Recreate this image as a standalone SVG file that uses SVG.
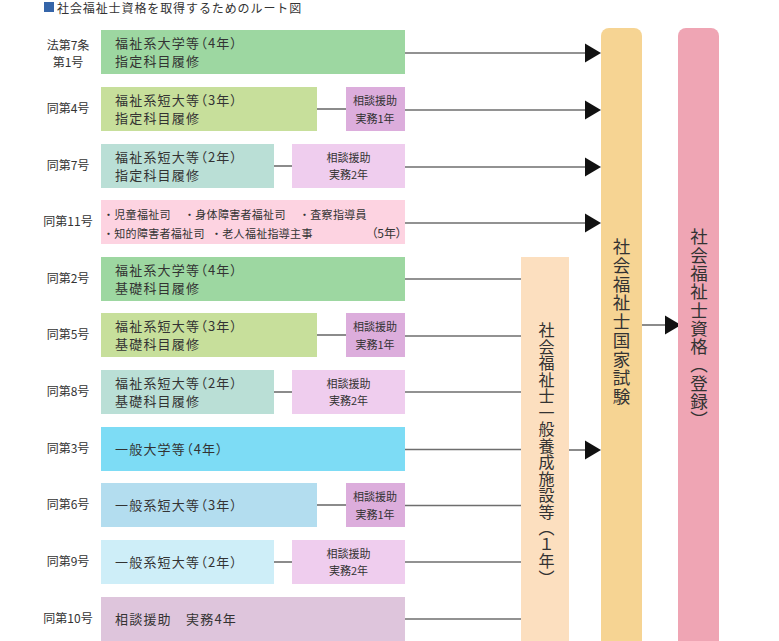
<svg xmlns="http://www.w3.org/2000/svg" width="779" height="641" viewBox="0 0 779 641">
<style>
text{font-family:"Noto Sans CJK JP","Noto Sans",sans-serif;fill:#333}
.lbl{font-size:12px;text-anchor:middle}
.main{font-size:13px;letter-spacing:1.2px;font-feature-settings:"palt"}
.sm{font-size:11px;text-anchor:middle}
.lst{font-size:11px;letter-spacing:0.3px}
.vt{writing-mode:vertical-rl}
.ln{stroke:#6e6e6e;stroke-width:1.6;fill:none}
.ah{fill:#111}
</style>
<defs>
<polygon id="arr" points="0,-9.5 16,0 0,9.5"/>
</defs>
<g id="title">
<rect x="44" y="2" width="10" height="10" fill="#3565a9"/>
<text x="57" y="12.5" style="font-size:12px;letter-spacing:0.9px">社会福祉士資格を取得するためのルート図</text>
</g>
<g id="connectors">
<line class="ln" x1="405" y1="53" x2="586" y2="53"/>
<line class="ln" x1="317" y1="109" x2="346" y2="109"/>
<line class="ln" x1="405" y1="110" x2="586" y2="110"/>
<line class="ln" x1="274" y1="166" x2="292" y2="166"/>
<line class="ln" x1="405" y1="167" x2="586" y2="167"/>
<line class="ln" x1="405" y1="223" x2="586" y2="223"/>
<line class="ln" x1="405" y1="279" x2="521" y2="279"/>
<line class="ln" x1="317" y1="335" x2="346" y2="335"/>
<line class="ln" x1="405" y1="336" x2="521" y2="336"/>
<line class="ln" x1="274" y1="392" x2="292" y2="392"/>
<line class="ln" x1="405" y1="392" x2="521" y2="392"/>
<line class="ln" x1="405" y1="449.5" x2="521" y2="449.5"/>
<line class="ln" x1="317" y1="505" x2="346" y2="505"/>
<line class="ln" x1="405" y1="505.5" x2="521" y2="505.5"/>
<line class="ln" x1="274" y1="562" x2="292" y2="562"/>
<line class="ln" x1="405" y1="562" x2="521" y2="562"/>
<line class="ln" x1="405" y1="619" x2="521" y2="619"/>
<line class="ln" x1="569" y1="450" x2="586" y2="450"/>
<line class="ln" x1="641" y1="325" x2="666" y2="325"/>
<use href="#arr" class="ah" x="585" y="53"/>
<use href="#arr" class="ah" x="585" y="110"/>
<use href="#arr" class="ah" x="585" y="167"/>
<use href="#arr" class="ah" x="585" y="223"/>
<use href="#arr" class="ah" x="585" y="450"/>
<use href="#arr" class="ah" x="665" y="325"/>
</g>
<g id="n1">
<text class="lbl" x="68" y="49.5">法第7条</text>
<text class="lbl" x="68" y="67">第1号</text>
<rect x="101" y="30" width="304" height="44" fill="#9dd7a1"/>
<text class="main" x="115" y="47.5">福祉系大学等（4年）</text>
<text class="main" x="115" y="66">指定科目履修</text>
</g>
<g id="n4">
<text class="lbl" x="68" y="113">同第4号</text>
<rect x="101" y="87" width="216" height="44" fill="#c7df9b"/>
<text class="main" x="115" y="104.5">福祉系短大等（3年）</text>
<text class="main" x="115" y="123">指定科目履修</text>
<rect x="346" y="87" width="59" height="44" fill="#dcaddc"/>
<text class="sm" x="375" y="105">相談援助</text>
<text class="sm" x="375" y="123">実務1年</text>
</g>
<g id="n7">
<text class="lbl" x="68" y="170">同第7号</text>
<rect x="101" y="144" width="173" height="44" fill="#badfd6"/>
<text class="main" x="115" y="161.5">福祉系短大等（2年）</text>
<text class="main" x="115" y="180">指定科目履修</text>
<rect x="292" y="144" width="113" height="44" fill="#efcdee"/>
<text class="sm" x="348.5" y="162">相談援助</text>
<text class="sm" x="348.5" y="179">実務2年</text>
</g>
<g id="n11">
<text class="lbl" x="68" y="226">同第11号</text>
<rect x="101" y="200" width="304" height="44" fill="#fdd3e1"/>
<text class="lst" x="103" y="219">・児童福祉司</text>
<text class="lst" x="184" y="219">・身体障害者福祉司</text>
<text class="lst" x="299" y="219">・査察指導員</text>
<text class="lst" x="103" y="238">・知的障害者福祉司</text>
<text class="lst" x="211" y="238">・老人福祉指導主事</text>
<text x="402" y="238" style="font-size:12px;text-anchor:end;font-feature-settings:'palt'">（5年）</text>
</g>
<g id="n2">
<text class="lbl" x="68" y="283">同第2号</text>
<rect x="101" y="257" width="304" height="44" fill="#9dd7a1"/>
<text class="main" x="115" y="274.5">福祉系大学等（4年）</text>
<text class="main" x="115" y="293">基礎科目履修</text>
</g>
<g id="n5">
<text class="lbl" x="68" y="339">同第5号</text>
<rect x="101" y="313" width="216" height="44" fill="#c7df9b"/>
<text class="main" x="115" y="330.5">福祉系短大等（3年）</text>
<text class="main" x="115" y="349">基礎科目履修</text>
<rect x="346" y="313" width="59" height="44" fill="#dcaddc"/>
<text class="sm" x="375" y="331">相談援助</text>
<text class="sm" x="375" y="349">実務1年</text>
</g>
<g id="n8">
<text class="lbl" x="68" y="396">同第8号</text>
<rect x="101" y="370" width="173" height="44" fill="#badfd6"/>
<text class="main" x="115" y="387.5">福祉系短大等（2年）</text>
<text class="main" x="115" y="406">基礎科目履修</text>
<rect x="292" y="370" width="113" height="44" fill="#efcdee"/>
<text class="sm" x="348.5" y="388">相談援助</text>
<text class="sm" x="348.5" y="405">実務2年</text>
</g>
<g id="n3">
<text class="lbl" x="68" y="453">同第3号</text>
<rect x="101" y="427" width="304" height="44" fill="#7ddcf5"/>
<text class="main" x="115" y="454">一般大学等（4年）</text>
</g>
<g id="n6">
<text class="lbl" x="68" y="509">同第6号</text>
<rect x="101" y="483" width="216" height="44" fill="#b3ddef"/>
<text class="main" x="115" y="510">一般系短大等（3年）</text>
<rect x="346" y="483" width="59" height="44" fill="#dcaddc"/>
<text class="sm" x="375" y="501">相談援助</text>
<text class="sm" x="375" y="519">実務1年</text>
</g>
<g id="n9">
<text class="lbl" x="68" y="566">同第9号</text>
<rect x="101" y="540" width="173" height="44" fill="#ceeef8"/>
<text class="main" x="115" y="567">一般系短大等（2年）</text>
<rect x="292" y="540" width="113" height="44" fill="#efcdee"/>
<text class="sm" x="348.5" y="558">相談援助</text>
<text class="sm" x="348.5" y="575">実務2年</text>
</g>
<g id="n10">
<text class="lbl" x="68" y="623">同第10号</text>
<rect x="101" y="597" width="304" height="44" fill="#dec5dc"/>
<text class="main" x="115" y="624">相談援助　実務4年</text>
</g>
<g id="training">
<rect x="521" y="257" width="48" height="384" fill="#fcdfbf"/>
<text class="vt" x="546.5" y="322" style="font-size:16px;letter-spacing:0.5px">社会福祉士一般養成施設等（１年）</text>
</g>
<g id="exam">
<rect x="601" y="28" width="41" height="620" rx="8" fill="#f6d493"/>
<text class="vt" x="621.5" y="238" style="font-size:17.5px;letter-spacing:1.2px">社会福祉士国家試験</text>
</g>
<g id="qualification">
<rect x="678" y="28" width="41" height="620" rx="8" fill="#efa5b4"/>
<text class="vt" x="699" y="228" style="font-size:17.5px;letter-spacing:0.8px">社会福祉士資格（登録）</text>
</g>
</svg>
